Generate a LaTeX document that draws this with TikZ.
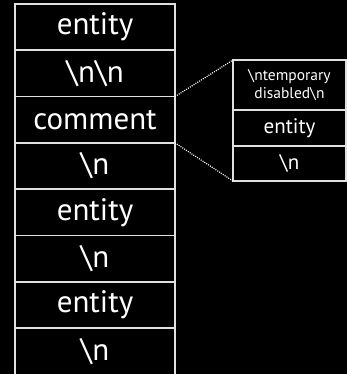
\documentclass[tikz,border=0pt]{standalone}
\usepackage{fontspec}
\setmainfont{PT Sans}
\begin{document}
\begin{tikzpicture}[x=1pt,y=-1pt,
  cell/.style={draw=white!88!black,line width=1.6pt,fill=black,text=white,
    inner sep=0pt,outer sep=0pt,anchor=north west},
  bigcell/.style={cell,minimum width=160pt,minimum height=46.3pt,font=\fontsize{31}{31}\selectfont},
  link/.style={draw=white,line width=1.2pt,dash pattern=on 1pt off 1.2pt}]
\useasboundingbox[fill=black] (0,0) rectangle (347,374);
% main stack
\node[bigcell] (l1) at (15,4) {entity};
\node[bigcell] (l2) at (l1.south west) {\textbackslash n\textbackslash n};
\node[bigcell] (l3) at (l2.south west) {comment};
\node[bigcell] (l4) at (l3.south west) {\textbackslash n};
\node[bigcell] (l5) at (l4.south west) {entity};
\node[bigcell] (l6) at (l5.south west) {\textbackslash n};
\node[bigcell] (l7) at (l6.south west) {entity};
\node[bigcell] (l8) at (l7.south west) {\textbackslash n};
% expanded comment
\node[cell,minimum width=113pt,minimum height=50pt,align=center,
  font=\fontsize{15.5}{18}\selectfont] (r1) at (233,60) {\textbackslash ntemporary\\disabled\textbackslash n};
\node[cell,minimum width=113pt,minimum height=36pt,font=\fontsize{21}{21}\selectfont]
  (r2) at (r1.south west) {entity};
\node[cell,minimum width=113pt,minimum height=35pt,font=\fontsize{21}{21}\selectfont]
  (r3) at (r2.south west) {\textbackslash n};
% zoom guides
\draw[link] (l2.south east) -- (r1.north west);
\draw[link] (l3.south east) -- (r3.south west);
\end{tikzpicture}
\end{document}
